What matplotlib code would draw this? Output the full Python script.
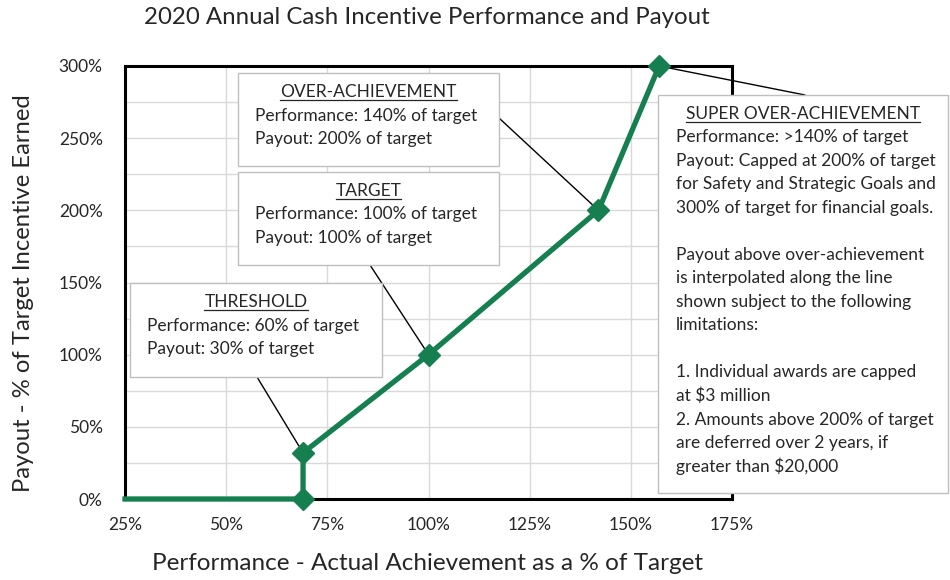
import matplotlib
matplotlib.use("Agg")
import matplotlib.pyplot as plt
from matplotlib.patches import Rectangle
from matplotlib.lines import Line2D

# ---- data ----
performance = [25, 69, 69, 100, 142, 157]   # % of target
payout = [0, 0, 32, 100, 200, 300]          # % of target incentive
marker_idx = [1, 2, 3, 4, 5]
x_ticks = [25, 50, 75, 100, 125, 150, 175]
y_ticks = [0, 50, 100, 150, 200, 250, 300]

title = "2020 Annual Cash Incentive Performance and Payout"
x_label = "Performance - Actual Achievement as a % of Target"
y_label = "Payout - % of Target Incentive Earned"

over_head = "OVER-ACHIEVEMENT"
over_lines = ["Performance: 140% of target", "Payout: 200% of target"]
target_head = "TARGET"
target_lines = ["Performance: 100% of target", "Payout: 100% of target"]
thresh_head = "THRESHOLD"
thresh_lines = ["Performance: 60% of target", "Payout: 30% of target"]
super_head = "SUPER OVER-ACHIEVEMENT"
super_lines = ["Performance: >140% of target",
               "Payout: Capped at 200% of target",
               "for Safety and Strategic Goals and",
               "300% of target for financial goals.",
               "",
               "Payout above over-achievement",
               "is interpolated along the line",
               "shown subject to the following",
               "limitations:",
               "",
               "1. Individual awards are capped",
               "at $3 million",
               "2. Amounts above 200% of target",
               "are deferred over 2 years, if",
               "greater than $20,000"]

FONT = ["Lato", "DejaVu Sans"]
plt.rcParams["font.family"] = FONT
W, H = 950, 580
GREEN = "#157F4F"
TXT = "#262626"

fig = plt.figure(figsize=(W / 100, H / 100), dpi=100)
fig.patch.set_facecolor("white")

def fx(px):
    return px / W

def fy(py):
    return 1 - py / H

ax = fig.add_axes([fx(125), fy(499), fx(732) - fx(125), fy(66) - fy(499)])
ax.set_xlim(25, 175)
ax.set_ylim(0, 300)
ax.set_xticks(x_ticks)
ax.set_yticks(y_ticks)
ax.set_yticks([t for t in range(0, 301, 25)], minor=True)
ax.set_xticklabels([f"{t}%" for t in x_ticks])
ax.set_yticklabels([f"{t}%" for t in y_ticks])
ax.grid(True, which="both", color="#d9d9d9", lw=1)
ax.set_axisbelow(True)
ax.tick_params(which="both", length=0, labelsize=12.5, colors=TXT)
ax.tick_params(axis="x", pad=13)
ax.tick_params(axis="y", pad=16)
for s in ax.spines.values():
    s.set_linewidth(2.2)
    s.set_color("black")

ax.plot(performance, payout, color=GREEN, lw=3.8, marker="D", markersize=11,
        markevery=marker_idx, clip_on=False, zorder=5)

fig.text(fx(427), fy(18), title, ha="center", va="center", fontsize=17.3, color=TXT)
fig.text(fx(428), fy(563), x_label, ha="center", va="center", fontsize=17.5, color=TXT)
fig.text(fx(24), fy(293), y_label, ha="center", va="center", rotation=90,
         fontsize=17.2, color=TXT)

renderer = fig.canvas.get_renderer()
BOX_FS = 12.5
STEP = 23.5

def callout(x0, y0, x1, y1, head, lines, text_x, head_y):
    r = Rectangle((fx(x0), fy(y1)), fx(x1) - fx(x0), fy(y0) - fy(y1),
                  transform=fig.transFigure, facecolor="white",
                  edgecolor="#bfbfbf", lw=1, zorder=10)
    fig.add_artist(r)
    t = fig.text(fx((x0 + x1) / 2), fy(head_y), head, ha="center", va="center",
                 fontsize=BOX_FS, color=TXT, zorder=11)
    bb = t.get_window_extent(renderer)
    uy = bb.y0 + 0.5
    fig.add_artist(Line2D([bb.x0 / W, bb.x1 / W], [uy / H, uy / H],
                          transform=fig.transFigure, color=TXT, lw=0.9, zorder=11))
    for i, ln in enumerate(lines):
        fig.text(fx(text_x), fy(head_y + STEP * (i + 1)), ln, ha="left",
                 va="center", fontsize=BOX_FS, color=TXT, zorder=11)

def leader(px, py, data_x, data_y):
    ax.annotate("", xy=(data_x, data_y), xycoords="data",
                xytext=(fx(px), fy(py)), textcoords="figure fraction",
                arrowprops=dict(arrowstyle="-", color="black", lw=1,
                                shrinkA=0, shrinkB=0),
                annotation_clip=False, zorder=4)

callout(238, 73, 499, 166, over_head, over_lines, 255, 92)
callout(238, 172, 499, 265, target_head, target_lines, 255, 191)
callout(130, 283, 382, 377, thresh_head, thresh_lines, 147, 302)
callout(658, 95, 948, 493, super_head, super_lines, 676, 114)

leader(499, 118, performance[4], payout[4])
leader(370, 265, performance[3], payout[3])
leader(257, 377, performance[2], payout[2])
leader(805, 95, performance[5], payout[5])

fig.savefig("out.png", dpi=100, facecolor="white")
